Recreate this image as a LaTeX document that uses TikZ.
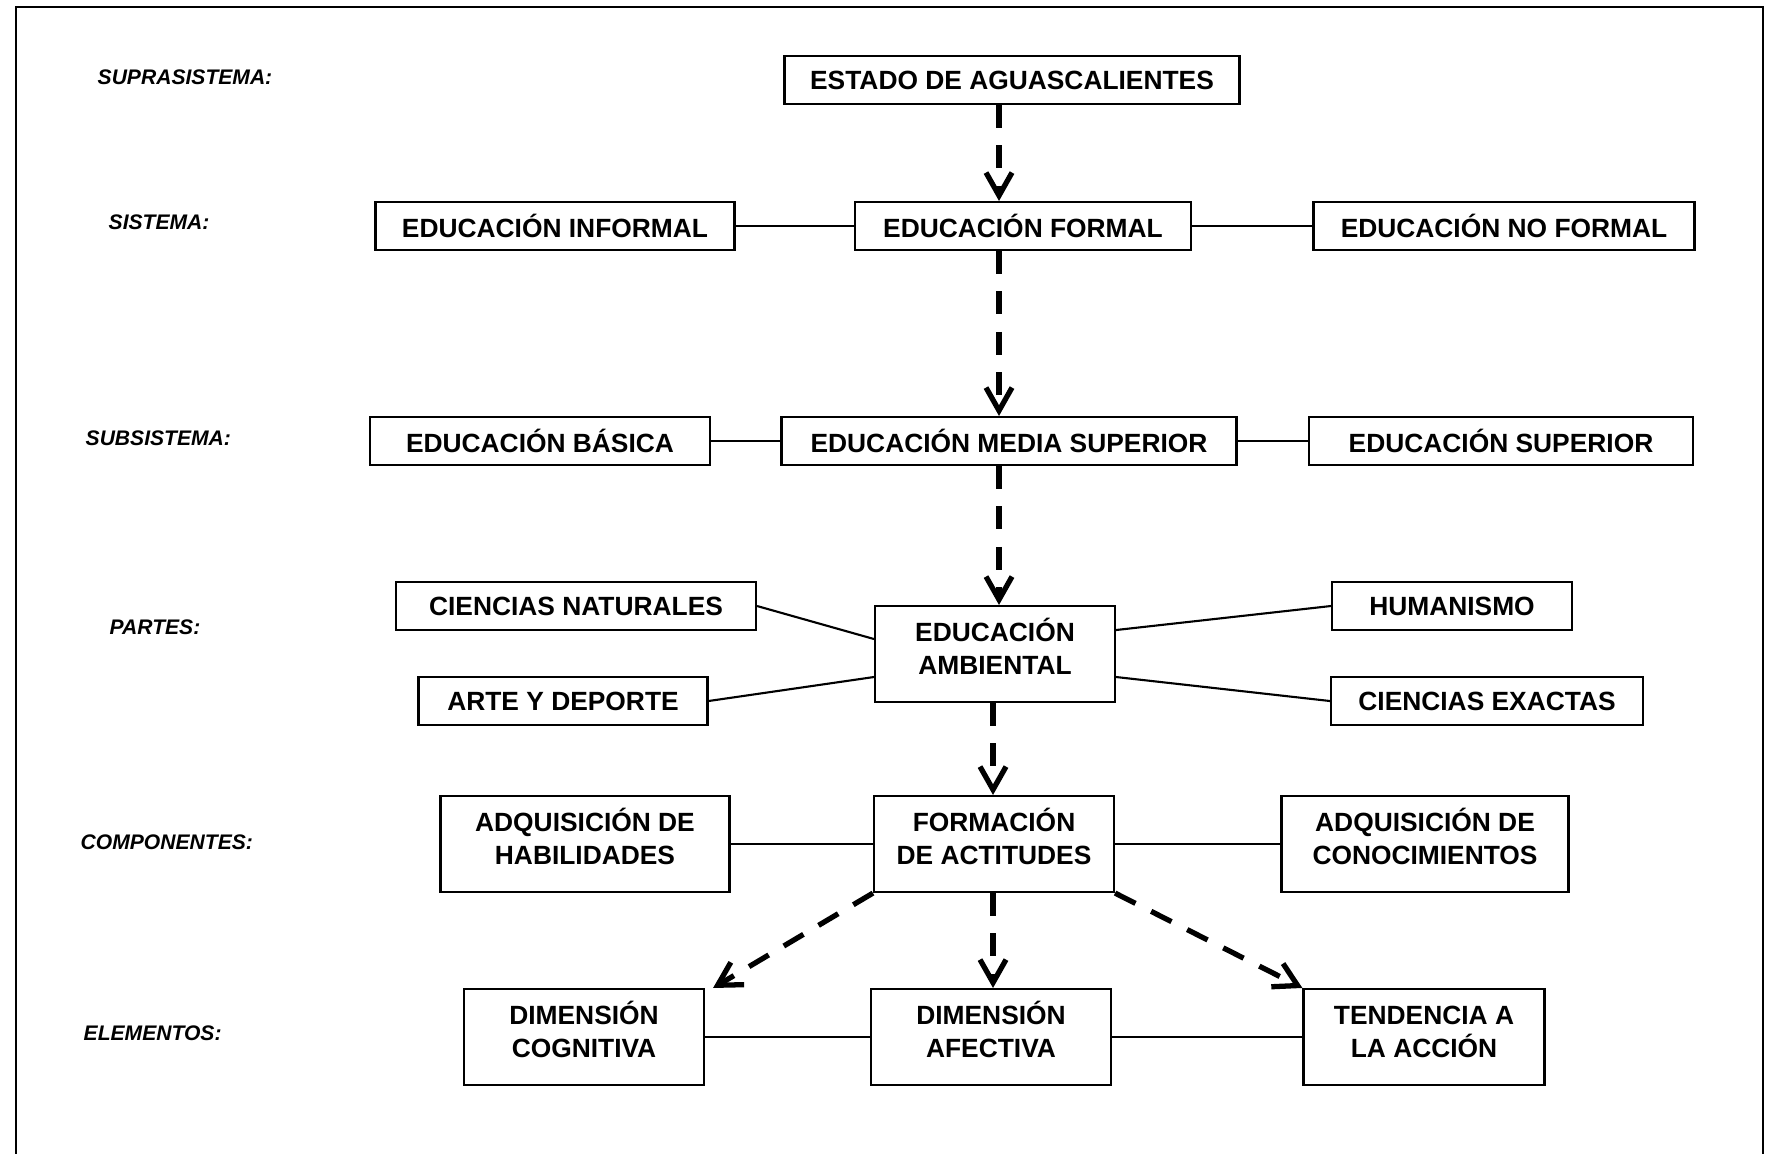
\documentclass[tikz,border=0pt]{standalone}
\usepackage{fontspec}
\setmainfont{Liberation Sans}
\usetikzlibrary{arrows.meta}

\begin{document}
\begin{tikzpicture}[x=0.1mm, y=-0.1mm,
    caja/.style={draw, line width=0.6pt, inner sep=0pt, minimum height=4.8mm, align=center,
      font=\bfseries\fontsize{7.5}{9.2}\selectfont},
    doble/.style={caja, minimum height=9.6mm, text height=16pt, text depth=4.6pt},
    nivel/.style={anchor=west, inner sep=0pt, font=\bfseries\itshape\fontsize{6}{7}\selectfont},
    enlace/.style={line width=0.6pt},
    flecha/.style={line width=1.5pt, dash pattern=on 6.5pt off 5pt,
      -{Straight Barb[length=2.3mm, width=2.6mm]}}]

  \useasboundingbox (0,0) rectangle (1769,1153);
  \draw[line width=0.6pt] (16,1200) -- (16,7) -- (1763,7) -- (1763,1200);

  % niveles
  \node[nivel] (suprasistema) at (97,77) {SUPRASISTEMA:};
  \node[nivel] (sistema) at (108,222) {SISTEMA:};
  \node[nivel] (subsistema) at (85,438) {SUBSISTEMA:};
  \node[nivel] (partes) at (109,627) {PARTES:};
  \node[nivel] (componentes) at (80,842) {COMPONENTES:};
  \node[nivel] (elementos) at (83,1033) {ELEMENTOS:};

  \coordinate (eje) at (999,0);
  \coordinate (eje2) at (993,0);

  \node[caja, minimum width=45.5mm] (estado) at (1012,80) {ESTADO DE AGUASCALIENTES};

  \node[caja, minimum width=35.9mm] (informal) at (555,226) {EDUCACIÓN INFORMAL};
  \node[caja, minimum width=33.6mm] (formal) at (1023,226) {EDUCACIÓN FORMAL};
  \node[caja, minimum width=38.1mm] (noformal) at (1504,226) {EDUCACIÓN NO FORMAL};

  \node[caja, minimum width=34mm] (basica) at (540,441) {EDUCACIÓN BÁSICA};
  \node[caja, minimum width=45.5mm] (media) at (1009,441) {EDUCACIÓN MEDIA SUPERIOR};
  \node[caja, minimum width=38.4mm] (superior) at (1501,441) {EDUCACIÓN SUPERIOR};

  \node[caja, minimum width=36mm] (naturales) at (576,606) {CIENCIAS NATURALES};
  \node[caja, minimum width=28.9mm] (arte) at (563,701) {ARTE Y DEPORTE};
  \node[doble, minimum width=24mm] (ambiental) at (995,654) {EDUCACIÓN\\AMBIENTAL};
  \node[caja, minimum width=24mm] (humanismo) at (1452,606) {HUMANISMO};
  \node[caja, minimum width=31.2mm] (exactas) at (1487,701) {CIENCIAS EXACTAS};

  \node[doble, minimum width=28.9mm] (habilidades) at (585,844) {ADQUISICIÓN DE\\HABILIDADES};
  \node[doble, minimum width=24mm] (actitudes) at (994,844) {FORMACIÓN\\DE ACTITUDES};
  \node[doble, minimum width=28.7mm] (conocimientos) at (1425,844) {ADQUISICIÓN DE\\CONOCIMIENTOS};

  \node[doble, minimum width=24mm] (cognitiva) at (584,1037) {DIMENSIÓN\\COGNITIVA};
  \node[doble, minimum width=24mm] (afectiva) at (991,1037) {DIMENSIÓN\\AFECTIVA};
  \node[doble, minimum width=24.1mm] (tendencia) at (1424,1037) {TENDENCIA A\\LA ACCIÓN};

  \draw[enlace] (informal) -- (formal) -- (noformal);
  \draw[enlace] (basica) -- (media) -- (superior);
  \draw[enlace] (naturales.east) -- ([yshift=1.5mm]ambiental.west);
  \draw[enlace] (arte.east) -- ([yshift=-2.3mm]ambiental.west);
  \draw[enlace] (humanismo.west) -- ([yshift=2.4mm]ambiental.east);
  \draw[enlace] (exactas.west) -- ([yshift=-2.3mm]ambiental.east);
  \draw[enlace] (habilidades) -- (actitudes) -- (conocimientos);
  \draw[enlace] (cognitiva) -- (afectiva) -- (tendencia);

  \draw[flecha] (estado.south -| eje) -- (formal.north -| eje);
  \draw[flecha] (formal.south -| eje) -- (media.north -| eje);
  \draw[flecha] (media.south -| eje) -- (ambiental.north -| eje);
  \draw[flecha] (ambiental.south -| eje2) -- (actitudes.north -| eje2);
  \draw[flecha] (actitudes.south -| eje2) -- (afectiva.north -| eje2);
  \draw[flecha] (actitudes.south west) -- ([xshift=0.8mm]cognitiva.north east);
  \draw[flecha] (actitudes.south east) -- (tendencia.north west);
\end{tikzpicture}
\end{document}
